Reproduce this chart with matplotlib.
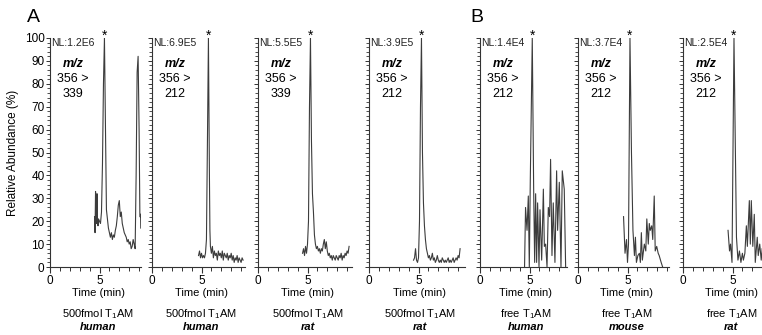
import numpy as np
import matplotlib
matplotlib.use("Agg")
import matplotlib.pyplot as plt
from matplotlib.ticker import MultipleLocator

plt.rcParams['font.family'] = ['Liberation Sans', 'DejaVu Sans']
plt.rcParams['mathtext.fontset'] = 'custom'
plt.rcParams['mathtext.rm'] = 'Liberation Sans'

nan = np.nan

# Chromatogram traces: retention time (min) and relative abundance (%)
t1 = [4.5, 4.55, 4.6, 4.65, 4.7, 4.75, 4.8, 4.85, 4.9, 5.0, 5.1, 5.2, 5.3, 5.4, 5.5, 5.6, 5.7, 5.8,
      5.9, 6.0, 6.1, 6.2, 6.3, 6.4, 6.5, 6.6, 6.7, 6.8, 6.9, 7.0, 7.1, 7.2, 7.3, 7.4, 7.5, 7.6,
      7.7, 7.8, 7.9, 8.0, 8.1, 8.2, 8.3, 8.4, 8.5, 8.6, 8.7, 8.8, 8.9, 9.0, 9.08, 9.12, 9.15, 9.17]
a1 = [22, 15, 33, 26, 19, 32, 20, 18, 21, 20, 19, 24, 45, 80, 100, 62, 25, 21,
      17, 15, 13, 15, 12, 14, 13, 16, 18, 22, 27, 29, 22, 24, 19, 17, 15, 14,
      13, 11, 12, 10, 11, 8, 9, 12, 10, 8, 40, 85, 92, 60, 22, nan, 23, 17]

t2 = [4.7, 4.8, 4.9, 5.0, 5.1, 5.2, 5.3, 5.4, 5.5, 5.6, 5.7, 5.8, 5.85, 5.9, 6.0, 6.1, 6.2,
      6.3, 6.4, 6.5, 6.6, 6.7, 6.8, 6.9, 7.0, 7.1, 7.2, 7.3, 7.4, 7.5, 7.6, 7.7, 7.8, 7.9,
      8.0, 8.1, 8.2, 8.3, 8.4, 8.5, 8.6, 8.7, 8.8, 8.9, 9.0, 9.1, 9.2]
a2 = [5, 7, 4, 6, 4, 5, 4, 6, 12, 55, 100, 40, 16, 9, 6, 9, 4,
      7, 5, 6, 3, 7, 5, 6, 4, 7, 3, 6, 5, 4, 6, 3, 5, 4,
      6, 3, 5, 2, 4, 3, 5, 2, 4, 3, 2, 4, 3]

t3 = [4.5, 4.6, 4.7, 4.8, 4.9, 5.0, 5.1, 5.2, 5.3, 5.4, 5.5, 5.6, 5.7, 5.8, 5.9, 6.0, 6.1,
      6.2, 6.3, 6.4, 6.5, 6.6, 6.7, 6.8, 6.9, 7.0, 7.1, 7.2, 7.3, 7.4, 7.5, 7.6, 7.7, 7.8,
      7.9, 8.0, 8.1, 8.2, 8.3, 8.4, 8.5, 8.6, 8.7, 8.8, 8.9, 9.0, 9.1, 9.2]
a3 = [6, 8, 5, 9, 6, 10, 20, 70, 100, 55, 32, 24, 14, 10, 8, 9, 7,
      8, 6, 8, 7, 10, 12, 8, 11, 7, 5, 6, 4, 5, 3, 5, 4, 3,
      5, 4, 3, 5, 4, 6, 3, 5, 4, 6, 5, 7, 6, 9]

t4 = t3
a4 = [3, 4, 8, 3, 2, 4, 20, 70, 100, 50, 28, 18, 12, 8, 6, 4, 5,
      3, 4, 6, 3, 4, 2, 3, 5, 3, 2, 3, 2, 4, 3, 2, 3, 2,
      3, 4, 2, 3, 2, 3, 4, 2, 3, 4, 3, 5, 4, 8]

t5 = [4.5, 4.6, 4.75, 4.88, 4.98, 5.08, 5.28, 5.42, 5.52, 5.62, 5.72, 5.82, 5.96, 6.06, 6.23, 6.4,
      6.5, 6.63, 6.77, 6.9, 7.03, 7.13, 7.27, 7.4, 7.57, 7.74, 7.84, 8.01, 8.18, 8.31, 8.51, 8.65]
a5 = [0, 26, 16, 31, 0, 38, 100, 34, 2, 32, 2, 28, 0, 25, 3, 34,
      9, 10, 0, 26, 22, 47, 5, 28, 2, 42, 16, 37, 0, 42, 34, 0]

t6 = [4.6, 4.75, 4.9, 5.0, 5.1, 5.25, 5.4, 5.55, 5.7, 5.8, 5.9, 6.05, 6.2, 6.3, 6.4, 6.5,
      6.7, 6.85, 6.95, 7.1, 7.2, 7.3, 7.45, 7.55, 7.7, 7.8, 7.95, 8.1, 8.2, 8.4, 8.55]
a6 = [22, 6, 12, 2, 10, 100, 50, 16, 5, 13, 2, 5, 6, 2, 15, 3,
      10, 7, 21, 10, 19, 16, 18, 12, 31, 7, 9, 6, 5, 2, 0]

t7 = [4.55, 4.7, 4.8, 4.95, 5.15, 5.4, 5.55, 5.7, 5.85, 6.0, 6.1, 6.25, 6.4, 6.5, 6.7, 6.8,
      6.9, 7.05, 7.2, 7.3, 7.5, 7.6, 7.75, 7.9, 8.0]
a7 = [16, 7, 10, 2, 100, 13, 3, 7, 2, 6, 3, 6, 18, 9, 29, 10,
      29, 9, 23, 2, 13, 5, 10, 3, 8]

times = [t1, t2, t3, t4, t5, t6, t7]
abund = [a1, a2, a3, a4, a5, a6, a7]
nl_labels = ["NL:1.2E6", "NL:6.9E5", "NL:5.5E5", "NL:3.9E5", "NL:1.4E4", "NL:3.7E4", "NL:2.5E4"]
products = ["339", "212", "339", "212", "212", "212", "212"]
samples = ["500fmol", "500fmol", "500fmol", "500fmol", "free", "free", "free"]
species = ["human", "human", "rat", "rat", "human", "mouse", "rat"]

W, H = 762, 335
lefts = [50, 152, 258, 369, 480, 578, 683]
xmaxs = [9.15, 9.4, 9.5, 9.7, 8.75, 9.2, 9.2]
ppm = 9.9  # pixels per minute
bottom, top = 267, 38

fig = plt.figure(figsize=(W / 100, H / 100), dpi=100)
ink = '#333333'

for i in range(7):
    w = xmaxs[i] * ppm
    ax = fig.add_axes([lefts[i] / W, (H - bottom) / H, w / W, (bottom - top) / H])
    ax.plot(times[i], abund[i], color='#3c3c3c', lw=0.8)
    ax.set_xlim(0, xmaxs[i])
    ax.set_ylim(0, 100)
    for s in ['top', 'right']:
        ax.spines[s].set_visible(False)
    for s in ['left', 'bottom']:
        ax.spines[s].set_linewidth(0.8)
        ax.spines[s].set_color(ink)
    ax.xaxis.set_major_locator(MultipleLocator(5))
    ax.xaxis.set_minor_locator(MultipleLocator(1))
    ax.yaxis.set_major_locator(MultipleLocator(10))
    ax.yaxis.set_minor_locator(MultipleLocator(2))
    ax.tick_params(axis='x', which='major', length=4, width=0.8, color=ink, labelsize=8.5, pad=2)
    ax.tick_params(axis='x', which='minor', length=3, width=0.7, color=ink)
    ax.tick_params(axis='y', which='major', length=3, width=0.7, color=ink, labelsize=8.5, pad=1)
    ax.tick_params(axis='y', which='minor', length=2, width=0.6, color=ink)
    if i > 0:
        ax.set_yticklabels([])
    else:
        ax.set_ylabel("Relative Abundance (%)", fontsize=8.5, labelpad=4)

    ax.text(0.15, 98, nl_labels[i], fontsize=7.5, ha='left', va='center', color='#222222')
    ax.text(2.3, 88.5, "m/z", fontsize=9, ha='center', va='center', style='italic', weight='bold')
    ax.text(2.3, 82, "356 >", fontsize=9, ha='center', va='center')
    ax.text(2.3, 75.5, products[i], fontsize=9, ha='center', va='center')

    peak = times[i][int(np.nanargmax(abund[i]))]
    ax.text(peak, 98, "*", fontsize=10, ha='center', va='bottom', clip_on=False)

    ax.text(0.53, -0.114, "Time (min)", transform=ax.transAxes, fontsize=8, ha='center', va='center')
    ax.text(0.53, -0.205, samples[i] + r" T$_\mathregular{1}$AM", transform=ax.transAxes,
            fontsize=8, ha='center', va='center')
    ax.text(0.53, -0.262, species[i], transform=ax.transAxes, fontsize=8, ha='center', va='center',
            style='italic', weight='bold')

fig.text(33 / W, 1 - 18 / H, "A", fontsize=14, ha='center', va='center')
fig.text(477 / W, 1 - 18 / H, "B", fontsize=14, ha='center', va='center')

fig.savefig("out.png", dpi=100)
